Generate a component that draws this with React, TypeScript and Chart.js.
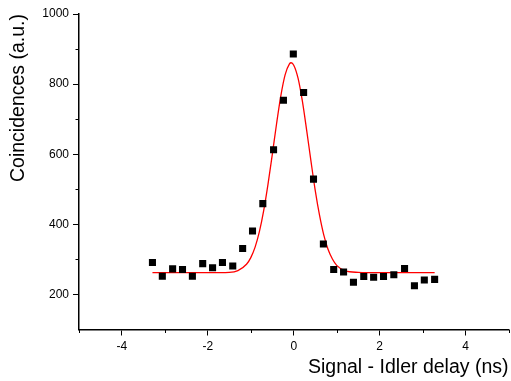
import { useEffect, useRef } from 'react';
import { Chart, registerables } from 'chart.js';

Chart.register(...registerables);

// Measured coincidences (black squares)
const delayNs = [-3.29, -3.06, -2.82, -2.59, -2.36, -2.12, -1.89, -1.66, -1.42, -1.19, -0.96, -0.72, -0.47, -0.24, -0.01, 0.23, 0.46, 0.69, 0.93, 1.16, 1.39, 1.63, 1.86, 2.09, 2.33, 2.58, 2.81, 3.04, 3.28];
const coincidences = [291, 252, 273, 271, 252, 288, 276, 291, 281, 331, 381, 459, 613, 754, 886, 776, 529, 344, 271, 264, 235, 251, 249, 251, 256, 274, 225, 241, 243];

// Fit curve (red line)
const fitDelayNs = [-3.29, -2.0, -1.5, -1.3, -1.1, -1.0, -0.9, -0.8, -0.7, -0.6, -0.5, -0.4, -0.3, -0.2, -0.1, -0.06, 0.0, 0.1, 0.2, 0.3, 0.4, 0.5, 0.6, 0.7, 0.8, 0.9, 1.0, 1.2, 1.5, 2.0, 3.28];
const fitCoincidences = [262, 262, 263, 268, 286, 305, 335, 379, 439, 514, 599, 687, 767, 827, 858, 861, 854, 817, 752, 669, 581, 497, 426, 369, 328, 301, 283, 267, 263, 262, 262];

// Tick values
const xMajorTicks = [-4, -2, 0, 2, 4];
const xMinorTicks = [-5, -3, -1, 1, 3, 5];
const yMajorTicks = [200, 400, 600, 800, 1000];
const yMinorTicks = [300, 500, 700, 900];

const FONT = '"Liberation Sans", Arial, Helvetica, sans-serif';

const minorTickPlugin = {
  id: 'minorTicks',
  afterDraw(chart: any) {
    const { ctx, scales } = chart;
    const x = scales.x;
    const y = scales.y;
    ctx.save();
    ctx.strokeStyle = '#000';
    ctx.lineWidth = 1;
    ctx.beginPath();
    for (const v of xMinorTicks) {
      const px = Math.round(x.getPixelForValue(v)) + 0.5;
      ctx.moveTo(px, x.top);
      ctx.lineTo(px, x.top + 3.5);
    }
    for (const v of yMinorTicks) {
      const py = Math.round(y.getPixelForValue(v)) + 0.5;
      ctx.moveTo(y.right, py);
      ctx.lineTo(y.right - 3.5, py);
    }
    ctx.stroke();
    ctx.restore();
  },
};

export default function App() {
  const canvasRef = useRef<HTMLCanvasElement | null>(null);

  useEffect(() => {
    if (!canvasRef.current) return;
    const chart = new Chart(canvasRef.current, {
      type: 'line',
      data: {
        datasets: [
          {
            label: 'Data',
            data: delayNs.map((d, i) => ({ x: d, y: coincidences[i] })),
            showLine: false,
            pointStyle: 'rect',
            pointRadius: 5,
            pointBorderWidth: 0,
            pointBackgroundColor: '#000',
            pointBorderColor: '#000',
            order: 0,
          },
          {
            label: 'Fit',
            data: fitDelayNs.map((d, i) => ({ x: d, y: fitCoincidences[i] })),
            borderColor: '#ff0000',
            borderWidth: 1.3,
            pointRadius: 0,
            cubicInterpolationMode: 'monotone',
            fill: false,
            order: 1,
          },
        ],
      },
      options: {
        animation: false,
        responsive: true,
        maintainAspectRatio: false,
        layout: { autoPadding: false, padding: { top: 14, right: 2.5, left: 0, bottom: 0 } },
        plugins: {
          legend: { display: false },
          tooltip: { enabled: false },
        },
        scales: {
          x: {
            type: 'linear',
            min: -5,
            max: 5,
            afterBuildTicks: (scale: any) => {
              scale.ticks = xMajorTicks.map((v) => ({ value: v }));
            },
            afterFit: (scale: any) => {
              scale.height = 51.5;
            },
            grid: {
              drawOnChartArea: false,
              drawTicks: true,
              tickLength: 6,
              tickColor: '#000',
              tickWidth: 1,
            },
            border: { display: true, color: '#000', width: 1.5 },
            ticks: {
              color: '#000',
              font: { family: FONT, size: 12 },
              padding: 4,
              maxRotation: 0,
              callback: (v: any) => String(v),
            },
            title: {
              display: true,
              text: 'Signal - Idler delay (ns)',
              align: 'end',
              color: '#000',
              font: { family: FONT, size: 19.5 },
              padding: { top: 0, bottom: 2 },
            },
          },
          y: {
            type: 'linear',
            min: 100,
            max: 1000,
            afterBuildTicks: (scale: any) => {
              scale.ticks = yMajorTicks.map((v) => ({ value: v }));
            },
            afterFit: (scale: any) => {
              scale.width = 79;
            },
            grid: {
              drawOnChartArea: false,
              drawTicks: true,
              tickLength: 6,
              tickColor: '#000',
              tickWidth: 1,
            },
            border: { display: true, color: '#000', width: 1.5 },
            ticks: {
              color: '#000',
              font: { family: FONT, size: 12 },
              padding: 4,
              callback: (v: any) => String(v),
            },
            title: {
              display: true,
              text: 'Coincidences (a.u.)',
              align: 'end',
              color: '#000',
              font: { family: FONT, size: 19.5 },
              padding: { top: 7, bottom: 0 },
            },
          },
        },
      } as any,
      plugins: [minorTickPlugin],
    });
    return () => chart.destroy();
  }, []);

  return (
    <div style={{ position: 'fixed', left: 0, top: 0, width: 511, height: 381, background: '#fff' }}>
      <canvas ref={canvasRef} />
    </div>
  );
}
